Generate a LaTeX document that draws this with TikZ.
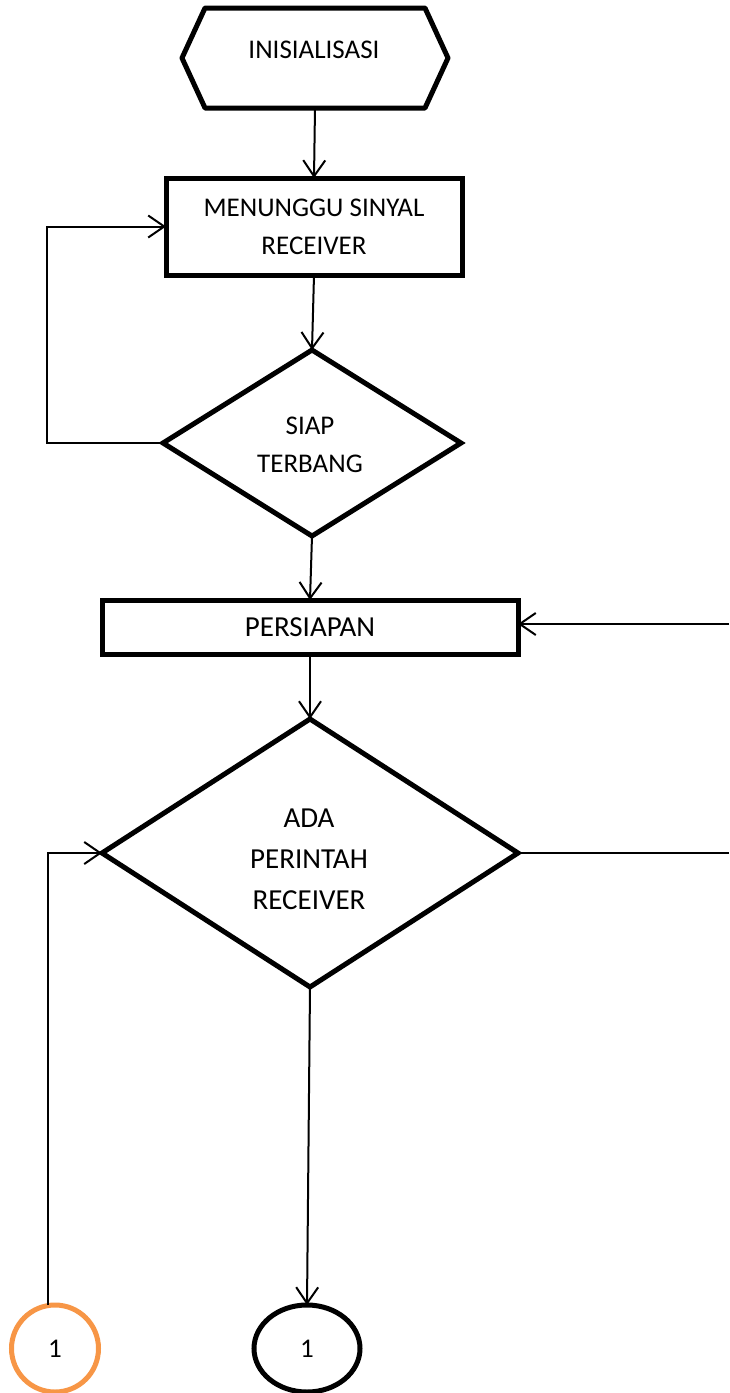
\documentclass[tikz,border=0pt]{standalone}
\usepackage{fontspec}
\setmainfont{Carlito}
\usetikzlibrary{shapes.geometric,arrows.meta}
\definecolor{conorange}{HTML}{F79646}
\begin{document}
\begin{tikzpicture}[x=1pt,y=-1pt,
  every node/.style={font=\fontsize{27}{38}\selectfont, align=center, inner sep=0pt, outer sep=0pt},
  big/.style={font=\fontsize{29}{41}\selectfont},
  box/.style={draw, rectangle, line width=5pt},
  dec/.style={draw, diamond, line width=5pt, aspect=1},
  conn/.style={line width=2pt, -{Straight Barb[length=16pt,width=22pt,line width=2pt]}},
  plain/.style={line width=2pt}]
\useasboundingbox (0,0) rectangle (729,1393);
% hexagon
\node[minimum width=266pt, minimum height=100pt] (init) at (315,58) {};
\draw[line width=5pt, line join=round] (205,8) -- (425,8) -- (448,58) -- (425,108) -- (205,108) -- (182,58) -- cycle;
\node at (314,50) {INISIALISASI};
\node[box, minimum width=296pt, minimum height=97pt] (wait) at (314,226.5) {MENUNGGU SINYAL\\RECEIVER};
\node[dec, minimum width=298pt, minimum height=186pt] (siap) at (312,443) {};
\node at (310,445) {SIAP\\TERBANG};
\node[box, big, minimum width=416pt, minimum height=54pt] (prep) at (310,627) {PERSIAPAN};
\node[dec, minimum width=416pt, minimum height=268pt] (ada) at (310,853) {};
\node[big] at (309,859) {ADA\\PERINTAH\\RECEIVER};
\node[draw, ellipse, line width=5pt, minimum width=106pt, minimum height=87pt] (end1) at (307,1348.5) {1};
\node[draw=conorange, circle, line width=5pt, minimum size=87pt] (con1) at (55,1348.5) {1};
\coordinate (rin) at (729,624);
\coordinate (rout) at (729,853);
% connectors
\draw[conn] (init.south) -- (wait.north);
\draw[conn] (wait.south) -- (siap.north);
\draw[conn] (siap.west) -- ++(-116,0) |- (wait.west);
\draw[conn] (siap.south) -- (prep.north);
\draw[conn] (rin) -- (rin -| prep.east);
\draw[conn] (prep.south) -- (ada.north);
\draw[plain] (ada.east) -- (rout);
\draw[conn] (ada.south) -- (end1.north);
\draw[conn] ([xshift=-7pt]con1.north) |- (ada.west);
\end{tikzpicture}
\end{document}
